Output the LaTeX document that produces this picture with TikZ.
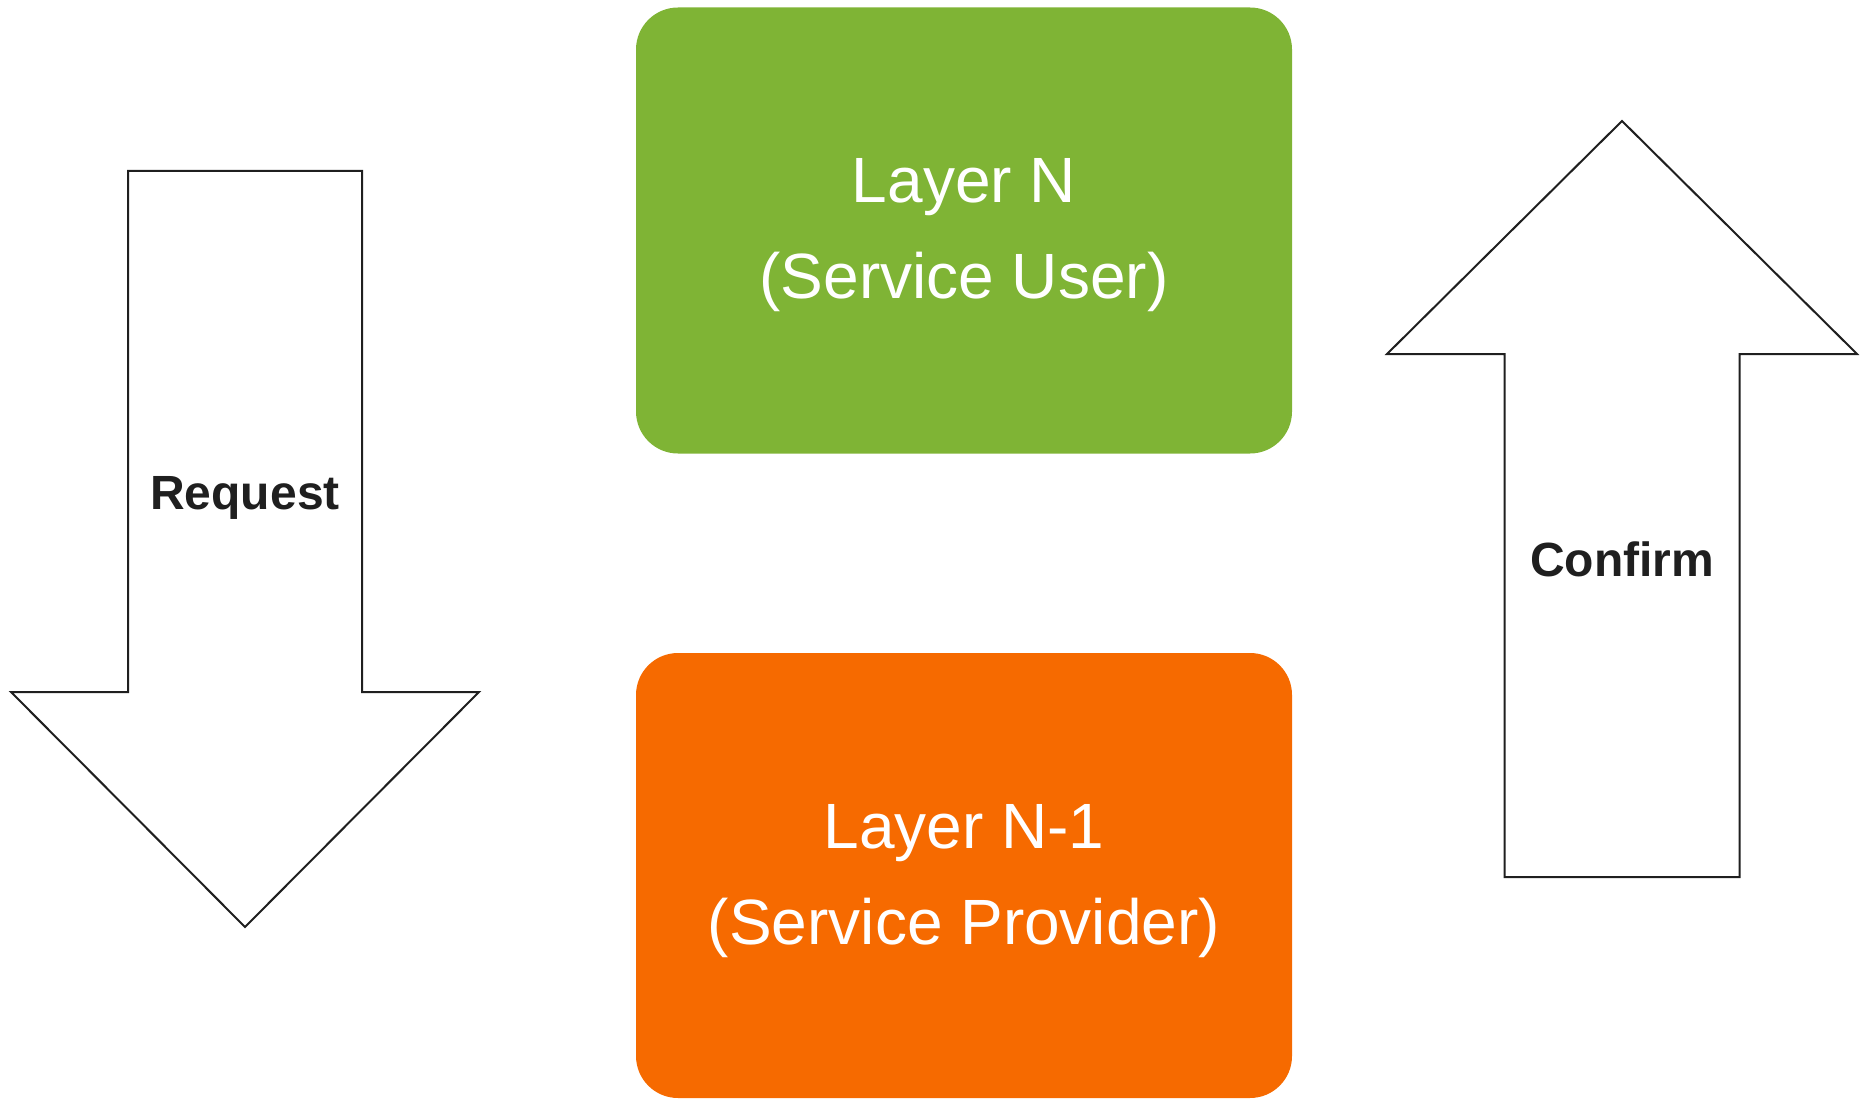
\documentclass[tikz,border=0pt]{standalone}
\usepackage{fontspec}
\setmainfont{Liberation Sans}
\definecolor{userGreen}{HTML}{7FB435}
\definecolor{providerOrange}{HTML}{F66A00}
\definecolor{ink}{HTML}{1F1F1F}
\tikzset{
  layerbox/.style={draw=none, rounded corners=42pt, inner sep=0pt, outer sep=0pt,
    minimum width=656pt, minimum height=446pt},
  layertext/.style={text=white, align=center, inner sep=0pt,
    font=\fontsize{64}{96}\selectfont},
  blockarrow/.style={draw=ink, fill=white, line width=2pt, line join=miter},
  arrowlabel/.style={text=ink, inner sep=0pt, font=\fontsize{48}{58}\selectfont\bfseries}
}
\begin{document}
\begin{tikzpicture}[x=1pt, y=-1pt]
  \useasboundingbox (0,0) rectangle (1865,1099);

  % service user and service provider layers
  \node[layerbox, fill=userGreen] (user) at (964,230.5) {};
  \node[layerbox, fill=providerOrange, minimum height=445pt] (provider) at (964,875.5) {};
  \node[layertext] (userText) at (964,235) {Layer N\\(Service User)};
  \node[layertext] (providerText) at (964,881) {Layer N-1\\(Service Provider)};

  % request: block arrow pointing down
  \draw[blockarrow] (128,171) -- (362,171) -- (362,692) -- (479,692)
    -- (245,927) -- (11,692) -- (128,692) -- cycle;
  \node[arrowlabel, anchor=base] (request) at (245,509) {Request};

  % confirm: block arrow pointing up
  \draw[blockarrow] (1504.5,877) -- (1739.5,877) -- (1739.5,354) -- (1857,354)
    -- (1622,121) -- (1387,354) -- (1504.5,354) -- cycle;
  \node[arrowlabel, anchor=base] (confirm) at (1622,576) {Confirm};
\end{tikzpicture}
\end{document}
